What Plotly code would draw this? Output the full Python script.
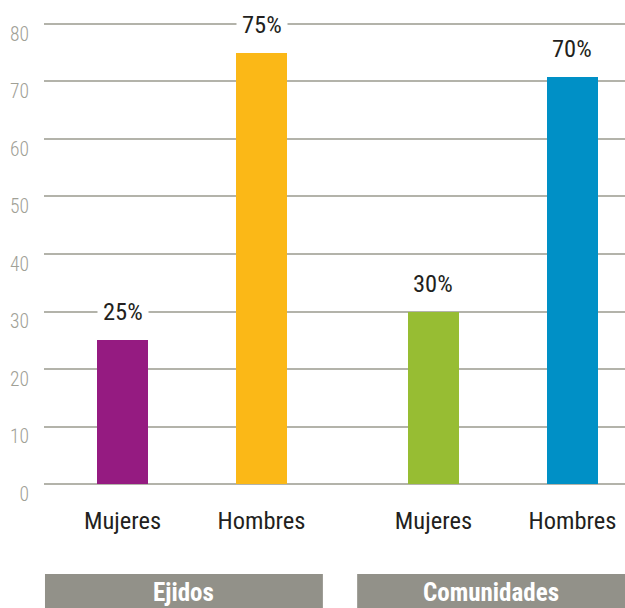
import plotly.graph_objects as go

groups = ["Ejidos", "Comunidades"]
categories = ["Mujeres", "Hombres", "Mujeres", "Hombres"]
group_of = [0, 0, 1, 1]
member_of = [0, 1, 0, 1]
values = [25, 75, 30, 70.8]
labels = ["25%", "75%", "30%", "70%"]
colors = ["#951B81", "#FBB817", "#97BD33", "#0090C6"]
yticks = [0, 10, 20, 30, 40, 50, 60, 70, 80]

GROUP_STEP = 2.237
xpos = [g * GROUP_STEP + m for g, m in zip(group_of, member_of)]

FONT = "Roboto Condensed, Liberation Sans Narrow, Roboto, sans-serif"

fig = go.Figure()
fig.add_trace(go.Bar(
    x=xpos, y=values, width=0.367,
    marker=dict(color=colors, line=dict(width=0)),
    hoverinfo="skip", showlegend=False,
))

for x, v, t in zip(xpos, values, labels):
    fig.add_annotation(
        x=x, y=v, text=t, showarrow=False, yanchor="bottom", yshift=8,
        font=dict(family=FONT, size=24.5, color="#231f20"),
        bgcolor="white", borderpad=5,
    )

PLOT_H = 466.0
def py(px):
    # convert page pixel row to paper coordinate
    return (608 - 121 - px) / PLOT_H

box_spans = [(0.0017, 0.480), (0.539, 1.0)]
for g, (x0, x1) in zip(groups, box_spans):
    fig.add_shape(type="rect", xref="paper", yref="paper",
                  x0=x0, x1=x1, y0=py(610), y1=py(574),
                  fillcolor="#929189", line=dict(width=0), layer="above")
    fig.add_annotation(xref="paper", yref="paper", x=(x0 + x1) / 2, y=py(592),
                       xanchor="center", yanchor="middle",
                       text="<b>" + g + "</b>", showarrow=False,
                       font=dict(family=FONT, size=25, color="white"))

fig.update_layout(
    width=625, height=608,
    margin=dict(l=44, r=0, t=21, b=121, autoexpand=False),
    plot_bgcolor="white", paper_bgcolor="white",
    bargap=0,
    xaxis=dict(
        range=[-0.565, 3.615], tickvals=xpos, ticktext=categories,
        showgrid=False, zeroline=False, showline=False, ticks="",
        tickfont=dict(family=FONT, size=24.5, color="#231f20"),
        ticklabelstandoff=16, fixedrange=True, automargin=False,
    ),
    yaxis=dict(
        range=[-0.5, 80.5], tickvals=yticks,
        showgrid=True, gridcolor="#b3b3aa", gridwidth=1.5,
        zeroline=False, showline=False, ticks="",
        tickfont=dict(family=FONT, size=19.5, color="#a0a096", weight=300),
        ticklabelshift=10, ticklabelstandoff=14, fixedrange=True, automargin=False,
    ),
)

fig.write_html("out.html", config={"displayModeBar": False},
               post_script="document.body.style.margin='0';document.body.style.overflow='hidden';")
